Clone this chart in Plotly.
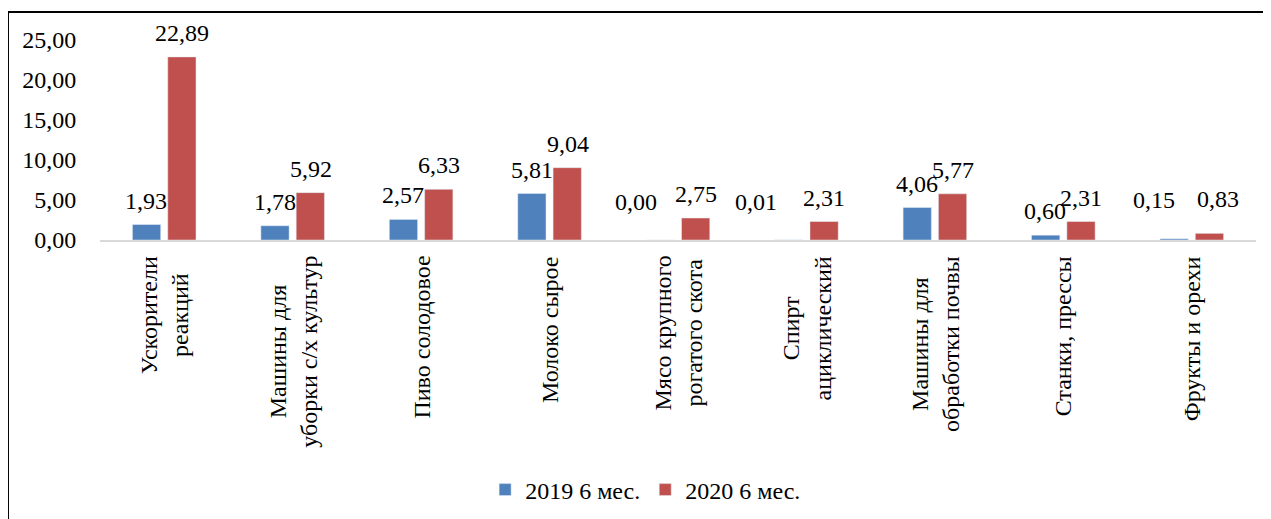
import plotly.graph_objects as go

categories = [
    "Ускорители<br>реакций",
    "Машины для<br>уборки с/х культур",
    "Пиво солодовое",
    "Молоко сырое",
    "Мясо крупного<br>рогатого скота",
    "Спирт<br>ациклический",
    "Машины для<br>обработки почвы",
    "Станки, прессы",
    "Фрукты и орехи",
]
cat_ids = [f"c{i}" for i in range(len(categories))]
values_2019 = [1.93, 1.78, 2.57, 5.81, 0.00, 0.01, 4.06, 0.60, 0.15]
values_2020 = [22.89, 5.92, 6.33, 9.04, 2.75, 2.31, 5.77, 2.31, 0.83]
series_names = ["2019 6 мес.", "2020 6 мес."]
y_ticks = [0, 5, 10, 15, 20, 25]

FONT = "Liberation Serif"
FS = 24
BLUE = "#4F81BD"
RED = "#C0504D"

# manual data-label nudges (pixels), as in the original chart: (category index, series index) -> (dx, dy)
label_nudge = {(4, 0): (-24, 14), (5, 0): (-32, 14), (8, 0): (-20, 15), (8, 1): (8, 10)}

fig = go.Figure()
fig.add_trace(go.Bar(x=cat_ids, y=values_2019, name=series_names[0], marker_color=BLUE))
fig.add_trace(go.Bar(x=cat_ids, y=values_2020, name=series_names[1], marker_color=RED))

def fmt(v):
    return f"{v:.2f}".replace(".", ",")

annotations = []
for i, (cid, v1, v2) in enumerate(zip(cat_ids, values_2019, values_2020)):
    for s, (v, dx) in enumerate(((v1, -18), (v2, 18))):
        ndx, ndy = label_nudge.get((i, s), (0, 0))
        annotations.append(dict(
            x=cid, y=v, xref="x", yref="y", text=fmt(v), showarrow=False,
            xanchor="center", yanchor="bottom", xshift=dx + ndx, yshift=9 + ndy,
            font=dict(family=FONT, size=FS, color="black"),
        ))
for cid, label in zip(cat_ids, categories):
    annotations.append(dict(
        x=cid, y=0, xref="x", yref="y", text=label, showarrow=False,
        textangle=-90, align="center", xanchor="center", yanchor="top", yshift=-14,
        font=dict(family=FONT, size=FS, color="black"),
    ))

fig.update_layout(
    width=1263, height=511,
    margin=dict(l=92, r=15, t=32, b=279, autoexpand=False),
    paper_bgcolor="white", plot_bgcolor="white",
    separators=", ",
    barmode="group", bargap=0.45, bargroupgap=0.2,
    font=dict(family=FONT, size=FS, color="black"),
    showlegend=True,
    legend=dict(orientation="h", x=0.472, xanchor="center", y=-1.25, yanchor="middle",
                font=dict(family=FONT, size=FS, color="black"), itemwidth=30),
    annotations=annotations,
    shapes=[dict(type="rect", xref="paper", yref="paper",
                 x0=-0.0796, x1=1.03, y0=-1.5, y1=1.14,
                 line=dict(color="black", width=2), fillcolor="rgba(0,0,0,0)", layer="above")],
)
fig.update_xaxes(showticklabels=False, showline=True, linecolor="#D9D9D9", linewidth=2,
                 ticks="", showgrid=False, zeroline=False, automargin=False)
fig.update_yaxes(range=[0, 25], tickvals=y_ticks, tickformat=".2f", showgrid=False,
                 zeroline=False, showline=False, ticks="outside", ticklen=18,
                 tickcolor="rgba(0,0,0,0)", tickfont=dict(family=FONT, size=FS, color="black"),
                 automargin=False)

fig.write_html("out.html")
